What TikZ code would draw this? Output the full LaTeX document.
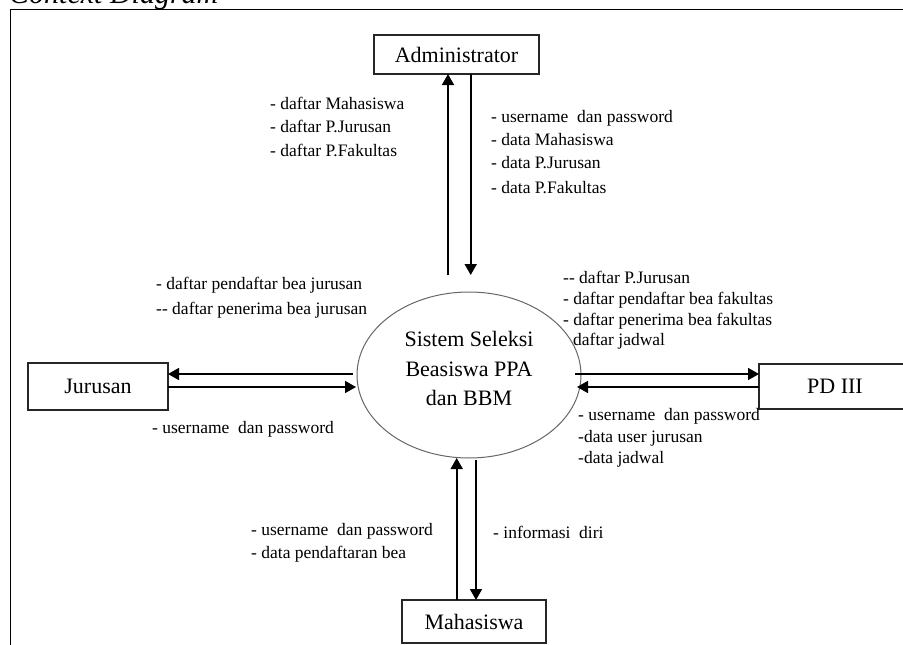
\documentclass[tikz,border=0pt]{standalone}
\usepackage{fontspec}
\setmainfont{Liberation Serif}
\usetikzlibrary{shapes.geometric,arrows.meta}

\begin{document}
\begin{tikzpicture}[x=1pt,y=-1pt,
  box/.style={draw=black!85, line width=1.1pt, fill=white, inner sep=0pt, outer sep=0pt,
              font=\fontsize{22}{26}\selectfont},
  flow/.style={line width=1.7pt, -{Triangle[length=11pt,width=12pt]}},
  lbl/.style={anchor=base west, inner sep=0pt, font=\fontsize{17.5}{21}\selectfont},
]
\useasboundingbox (0,0) rectangle (903,645);
\clip (0,0) rectangle (903,645);

% caption and frame
\node[anchor=base west, inner sep=0pt, font=\fontsize{30}{34}\selectfont\itshape] (cap) at (9,3.3) {Context Diagram};
\draw[line width=1.8pt] (10.5,700) -- (10.5,9.5) -- (950,9.5);

% process and external entities
\node[ellipse, draw=black!60, line width=1pt, minimum width=224, minimum height=166,
      inner sep=0pt, outer sep=0pt] (sys) at (469,375) {};
\node[align=center, font=\fontsize{22}{29.5}\selectfont] (systxt) at (469,368.5)
  {Sistem Seleksi\\Beasiswa PPA\\dan BBM};

\node[box, minimum width=165, minimum height=39] (adm) at (456.5,54.5) {Administrator};
\node[box, minimum width=140, minimum height=47] (jur) at (98,386.5) {Jurusan};
\node[box, minimum width=152, minimum height=45] (pd)  at (835,386.5) {PD III};
\node[box, minimum width=144, minimum height=43] (mhs) at (474,621.5) {Mahasiswa};

% flows: Administrator
\coordinate (aup) at (448,275);
\coordinate (adn) at (470.7,275);
\draw[flow] (aup) -- (adm.south -| aup);
\draw[flow] (adm.south -| adn) -- (adn);

% flows: Jurusan
\coordinate (j1) at (353,374);
\coordinate (j2) at (356,387);
\draw[flow] (j1) -- (jur.east |- j1);
\draw[flow] (jur.east |- j2) -- (j2);

% flows: PD III
\coordinate (p1) at (575,374);
\coordinate (p2) at (577,387);
\draw[flow] (p1) -- (pd.west |- p1);
\draw[flow] (pd.west |- p2) -- (p2);

% flows: Mahasiswa
\coordinate (m1) at (456.7,458);
\coordinate (m2) at (476,460);
\draw[flow] (mhs.north -| m1) -- (m1);
\draw[flow] (m2) -- (mhs.north -| m2);

% data flow labels: Administrator
\node[lbl] (a1) at (270,109) {- daftar Mahasiswa};
\node[lbl] (a2) at (270,132) {- daftar P.Jurusan};
\node[lbl] (a3) at (270,156) {- daftar P.Fakultas};
\node[lbl] (a4) at (491,122) {- username\ \ dan password};
\node[lbl] (a5) at (491,145) {- data Mahasiswa};
\node[lbl] (a6) at (491,168) {- data P.Jurusan};
\node[lbl] (a7) at (491,193) {- data P.Fakultas};

% data flow labels: Jurusan
\node[lbl] (b1) at (156,289) {- daftar pendaftar bea jurusan};
\node[lbl] (b2) at (156,314) {-{}- daftar penerima bea jurusan};
\node[lbl] (b3) at (152,433) {- username\ \ dan password};

% data flow labels: PD III
\node[lbl] (c1) at (563,283) {-{}- daftar P.Jurusan};
\node[lbl] (c2) at (563,304) {- daftar pendaftar bea fakultas};
\node[lbl] (c3) at (563,325) {- daftar penerima\ bea fakultas};
\node[lbl] (c4) at (573,345) {daftar jadwal};
\node[lbl] (c5) at (578,420) {- username\ \ dan password};
\node[lbl] (c6) at (578,442) {-data user jurusan};
\node[lbl] (c7) at (578,463) {-data jadwal};

% data flow labels: Mahasiswa
\node[lbl] (d1) at (251,535) {- username\ \ dan password};
\node[lbl] (d2) at (251,558) {- data pendaftaran bea};
\node[lbl] (d3) at (493,538) {- informasi\ \ diri};
\end{tikzpicture}
\end{document}
